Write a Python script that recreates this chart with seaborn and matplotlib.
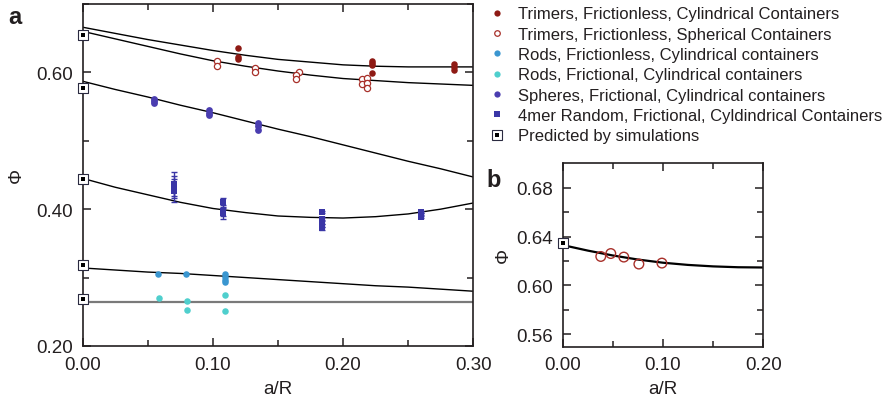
import numpy as np
import pandas as pd
import matplotlib
matplotlib.use("Agg")
import matplotlib.pyplot as plt
import seaborn as sns
from matplotlib.lines import Line2D
from matplotlib.ticker import MultipleLocator, FormatStrFormatter
from matplotlib.legend_handler import HandlerTuple

# ---------------- data (panel a) ----------------
trim_cyl_x = [0.119, 0.119, 0.119, 0.222, 0.222, 0.222, 0.222, 0.285, 0.285, 0.285]
trim_cyl_y = [0.635, 0.623, 0.620, 0.617, 0.614, 0.611, 0.599, 0.612, 0.608, 0.604]

trim_sph_x = [0.103, 0.103, 0.132, 0.132, 0.166, 0.164, 0.164, 0.2146, 0.2146, 0.2185, 0.2185, 0.2185]
trim_sph_y = [0.616, 0.610, 0.607, 0.601, 0.601, 0.596, 0.590, 0.590, 0.583, 0.592, 0.584, 0.577]

rods_fl_x = [0.058, 0.079, 0.109, 0.109, 0.109, 0.109]
rods_fl_y = [0.305, 0.305, 0.305, 0.301, 0.297, 0.294]

rods_fr_x = [0.0585, 0.080, 0.080, 0.1095, 0.1095]
rods_fr_y = [0.270, 0.266, 0.253, 0.274, 0.2505]

spheres_x = [0.055, 0.055, 0.055, 0.097, 0.097, 0.097, 0.135, 0.135, 0.135]
spheres_y = [0.561, 0.558, 0.555, 0.545, 0.541, 0.538, 0.526, 0.521, 0.516]

mer4_x = [0.0705, 0.0705, 0.0705, 0.108, 0.108, 0.108,
          0.184, 0.184, 0.184, 0.184, 0.184, 0.2595, 0.2595, 0.2595]
mer4_y = [0.437, 0.432, 0.427, 0.410, 0.398, 0.394,
          0.396, 0.386, 0.381, 0.376, 0.372, 0.396, 0.392, 0.389]
mer4_err = [0.018, 0.016, 0.017, 0.007, 0.008, 0.008,
            0.002, 0.002, 0.002, 0.002, 0.002, 0.002, 0.002, 0.002]

pred_a_x = [0.0, 0.0, 0.0, 0.0, 0.0]
pred_a_y = [0.655, 0.577, 0.444, 0.319, 0.269]

fit_x = [0.0, 0.025, 0.05, 0.075, 0.1, 0.125, 0.15, 0.175, 0.2, 0.225, 0.25, 0.275, 0.3]
fit_trim_cyl = [0.666, 0.657, 0.648, 0.640, 0.632, 0.625, 0.619, 0.615, 0.611, 0.609, 0.608, 0.608, 0.608]
fit_trim_sph = [0.660, 0.649, 0.638, 0.627, 0.617, 0.609, 0.602, 0.596, 0.591, 0.588, 0.585, 0.583, 0.581]
fit_spheres = [0.587, 0.575, 0.564, 0.552, 0.541, 0.529, 0.517, 0.506, 0.494, 0.482, 0.470, 0.459, 0.447]
fit_4mer = [0.445, 0.432, 0.421, 0.410, 0.401, 0.395, 0.390, 0.388, 0.387, 0.389, 0.393, 0.400, 0.409]
fit_rods_fl = [0.314, 0.311, 0.308, 0.306, 0.303, 0.300, 0.297, 0.294, 0.291, 0.288, 0.286, 0.283, 0.280]
fit_rods_fr = [0.264, 0.264, 0.264, 0.264, 0.264, 0.264, 0.264, 0.264, 0.264, 0.264, 0.264, 0.264, 0.264]

# ---------------- data (panel b) ----------------
b_x = [0.038, 0.048, 0.061, 0.076, 0.099]
b_y = [0.6237, 0.6261, 0.6232, 0.6175, 0.6183]
b_pred_x = [0.0]
b_pred_y = [0.635]
b_fit_x = [0.0, 0.025, 0.05, 0.075, 0.1, 0.125, 0.15, 0.175, 0.2]
b_fit_y = [0.633, 0.6285, 0.6245, 0.6212, 0.6186, 0.6168, 0.6156, 0.6149, 0.6147]

labels = ["Trimers, Frictionless, Cylindrical Containers",
          "Trimers, Frictionless, Spherical Containers",
          "Rods, Frictionless, Cylindrical containers",
          "Rods, Frictional, Cylindrical containers",
          "Spheres, Frictional, Cylindrical containers",
          "4mer Random, Frictional, Cyldindrical Containers",
          "Predicted by simulations"]

# ---------------- style ----------------
sns.set_style("ticks")
plt.rcParams['font.family'] = ['Liberation Sans', 'DejaVu Sans']
plt.rcParams['text.color'] = '#231f20'
plt.rcParams['axes.labelcolor'] = '#231f20'
plt.rcParams['xtick.color'] = '#231f20'
plt.rcParams['ytick.color'] = '#231f20'

C_TC = "#8e1a14"
C_TS = "#a8302a"
C_RFL = "#3a96d0"
C_RFR = "#4fcfcd"
C_SPH = "#4a3db0"
C_4M = "#3a36a6"
C_PRED_EDGE = "#2a2a40"

fig = plt.figure(figsize=(8.95, 4.02), dpi=100)
axa = fig.add_axes([0.0924, 0.137, 0.4364, 0.8506])
axb = fig.add_axes([0.6287, 0.135, 0.2240, 0.457])

def line(ax, x, y, color='black', lw=1.0):
    sns.lineplot(x=x, y=y, ax=ax, color=color, lw=lw, estimator=None,
                 sort=False, legend=False, zorder=2)

# fit lines
line(axa, fit_x, fit_trim_cyl)
line(axa, fit_x, fit_trim_sph)
line(axa, fit_x, fit_spheres)
line(axa, fit_x, fit_4mer)
line(axa, fit_x, fit_rods_fl)
line(axa, fit_x, fit_rods_fr, color='#7a7a7a', lw=1.6)

# points
sns.scatterplot(x=trim_cyl_x, y=trim_cyl_y, ax=axa, color=C_TC, s=22,
                linewidth=0, zorder=3, legend=False)
sns.scatterplot(x=trim_sph_x, y=trim_sph_y, ax=axa, s=20, marker='o',
                facecolor='white', edgecolor=C_TS, linewidth=0.9, zorder=3, legend=False)
sns.scatterplot(x=rods_fl_x, y=rods_fl_y, ax=axa, color=C_RFL, s=22,
                linewidth=0, zorder=3, legend=False)
sns.scatterplot(x=rods_fr_x, y=rods_fr_y, ax=axa, color=C_RFR, s=22,
                linewidth=0, zorder=3, legend=False)
sns.scatterplot(x=spheres_x, y=spheres_y, ax=axa, color=C_SPH, s=24,
                linewidth=0, zorder=3, legend=False)
axa.errorbar(mer4_x, mer4_y, yerr=mer4_err, fmt='none', ecolor=C_4M,
             elinewidth=1.0, capsize=2.0, capthick=1.0, zorder=3)
sns.scatterplot(x=mer4_x, y=mer4_y, ax=axa, color=C_4M, s=20, marker='s',
                linewidth=0, zorder=4, legend=False)

def predicted(ax, x, y):
    sns.scatterplot(x=x, y=y, ax=ax, s=60, marker='s', facecolor='white',
                    edgecolor=C_PRED_EDGE, linewidth=0.8, zorder=5,
                    clip_on=False, legend=False)
    sns.scatterplot(x=x, y=y, ax=ax, s=12, marker='s', color='black',
                    linewidth=0, zorder=6, clip_on=False, legend=False)

predicted(axa, pred_a_x, pred_a_y)

# panel b
line(axb, b_fit_x, b_fit_y, lw=1.6)
sns.scatterplot(x=b_x, y=b_y, ax=axb, s=48, marker='o', facecolor='none',
                edgecolor=C_TS, linewidth=1.0, zorder=3, legend=False)
predicted(axb, b_pred_x, b_pred_y)

# axes formatting
for ax in (axa, axb):
    for sp in ax.spines.values():
        sp.set_visible(True)
        sp.set_linewidth(1.2)
        sp.set_color('#231f20')
    ax.tick_params(which='both', direction='in', top=True, right=True,
                   labelsize=13.5, width=1.1, pad=7)
    ax.tick_params(which='major', length=6)
    ax.tick_params(which='minor', length=4)
    ax.set_xlabel("a/R", fontsize=13.5, labelpad=5)

axa.set_ylabel("Φ", fontsize=13.5, labelpad=8)
axb.set_ylabel("Φ", fontsize=13.5, labelpad=3)

axa.set_xlim(0, 0.30)
axa.set_ylim(0.20, 0.70)
axa.xaxis.set_major_locator(MultipleLocator(0.10))
axa.xaxis.set_minor_locator(MultipleLocator(0.05))
axa.yaxis.set_major_locator(MultipleLocator(0.20))
axa.yaxis.set_minor_locator(MultipleLocator(0.10))
axa.xaxis.set_major_formatter(FormatStrFormatter('%.2f'))
axa.yaxis.set_major_formatter(FormatStrFormatter('%.2f'))

axb.set_xlim(0, 0.20)
axb.set_ylim(0.55, 0.70)
axb.xaxis.set_major_locator(MultipleLocator(0.10))
axb.xaxis.set_minor_locator(MultipleLocator(0.05))
axb.set_yticks([0.56, 0.60, 0.64, 0.68])
axb.set_yticks([0.58, 0.62, 0.66], minor=True)
axb.xaxis.set_major_formatter(FormatStrFormatter('%.2f'))
axb.yaxis.set_major_formatter(FormatStrFormatter('%.2f'))

fig.text(0.009, 0.94, "a", fontsize=17, fontweight='bold')
fig.text(0.543, 0.535, "b", fontsize=17, fontweight='bold')

# legend
h = [
    Line2D([], [], ls='none', marker='o', ms=4.5, mfc=C_TC, mec=C_TC, mew=0),
    Line2D([], [], ls='none', marker='o', ms=4.0, mfc='white', mec=C_TS, mew=0.9),
    Line2D([], [], ls='none', marker='o', ms=4.5, mfc=C_RFL, mec=C_RFL, mew=0),
    Line2D([], [], ls='none', marker='o', ms=4.5, mfc=C_RFR, mec=C_RFR, mew=0),
    Line2D([], [], ls='none', marker='o', ms=4.5, mfc=C_SPH, mec=C_SPH, mew=0),
    Line2D([], [], ls='none', marker='s', ms=4.0, mfc=C_4M, mec=C_4M, mew=0),
    (Line2D([], [], ls='none', marker='s', ms=7.5, mfc='white', mec=C_PRED_EDGE, mew=0.8),
     Line2D([], [], ls='none', marker='s', ms=3.4, mfc='black', mec='black', mew=0)),
]
fig.legend(h, labels, loc='upper left', bbox_to_anchor=(0.539, 1.0),
           frameon=False, fontsize=12, handlelength=0.9, handletextpad=0.8,
           labelspacing=0.32, borderaxespad=0.2, borderpad=0.25,
           handler_map={tuple: HandlerTuple(ndivide=1)})

fig.savefig("out.png", dpi=100)
